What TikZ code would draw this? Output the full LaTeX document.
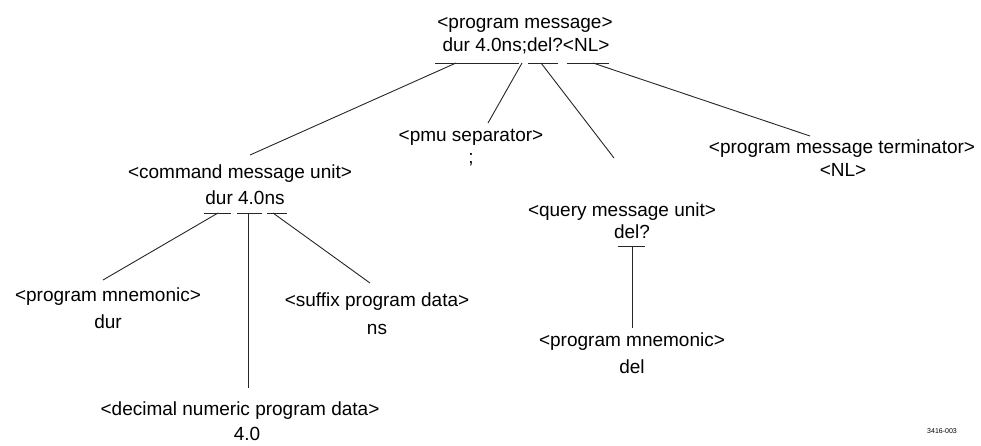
\documentclass[tikz,border=0pt]{standalone}
\usepackage{fontspec}
\setmainfont{Liberation Sans}
\begin{document}
\begin{tikzpicture}[x=1pt,y=-1pt,
  lbl/.style={anchor=base,inner sep=0pt,font=\fontsize{19}{22}\selectfont},
  tiny/.style={anchor=base,inner sep=0pt,font=\fontsize{7}{8}\selectfont},
  conn/.style={line width=0.9pt,draw=black!85},
  uline/.style={line width=0.9pt,draw=black!85}]
\useasboundingbox (0,0) rectangle (981,445);
% top
\node[lbl] (pm) at (525,28) {<program message>};
\node[lbl] (pmv) at (526,51) {dur 4.0ns;del?<NL>};
\coordinate (pmA1) at (435,63); \coordinate (pmA2) at (519,63);
\coordinate (pmB1) at (528,63); \coordinate (pmB2) at (558,63);
\coordinate (pmC1) at (567,63); \coordinate (pmC2) at (609,63);
\draw[uline] (pmA1) -- (pmA2);
\draw[uline] (pmB1) -- (pmB2);
\draw[uline] (pmC1) -- (pmC2);
\coordinate (pmA) at (456,63);
\coordinate (pmS) at (522,63);
\coordinate (pmB) at (541,63);
\coordinate (pmC) at (593,63);
% command message unit
\node[lbl] (cmu) at (240,178) {<command message unit>};
\node[lbl] (cmuv) at (245,204) {dur 4.0ns};
\coordinate (cmuIn) at (250,155);
\coordinate (cmuA1) at (204,213); \coordinate (cmuA2) at (231,213);
\coordinate (cmuB1) at (237,213); \coordinate (cmuB2) at (262,213);
\coordinate (cmuC1) at (267,213); \coordinate (cmuC2) at (287,213);
\draw[uline] (cmuA1) -- (cmuA2);
\draw[uline] (cmuB1) -- (cmuB2);
\draw[uline] (cmuC1) -- (cmuC2);
\coordinate (cmuA) at (218,213);
\coordinate (cmuB) at (248,213);
\coordinate (cmuC) at (273,213);
% pmu separator
\node[lbl] (pmu) at (471,141) {<pmu separator>};
\node[lbl] (pmuv) at (471,163) {;};
\coordinate (pmuIn) at (488,123);
% query message unit
\node[lbl] (qmu) at (622,216) {<query message unit>};
\node[lbl] (qmuv) at (632,238) {del?};
\coordinate (qmuIn) at (614,158);
\coordinate (qA1) at (618,246); \coordinate (qA2) at (645,246);
\draw[uline] (qA1) -- (qA2);
\coordinate (qA) at (632,246);
% terminator
\node[lbl] (term) at (842,153) {<program message terminator>};
\node[lbl] (termv) at (843,176) {<NL>};
\coordinate (termIn) at (810,136);
% left mnemonic
\node[lbl] (lm) at (108,301) {<program mnemonic>};
\node[lbl] (lmv) at (108,328) {dur};
\coordinate (lmIn) at (103,280);
% suffix
\node[lbl] (suf) at (377,306) {<suffix program data>};
\node[lbl] (sufv) at (377,334) {ns};
\coordinate (sufIn) at (370,283);
% decimal
\node[lbl] (dec) at (240,415) {<decimal numeric program data>};
\node[lbl] (decv) at (247,440) {4.0};
\coordinate (decIn) at (248,388);
% right mnemonic
\node[lbl] (rm) at (632,346) {<program mnemonic>};
\node[lbl] (rmv) at (632,373) {del};
\coordinate (rmIn) at (632,328);
% figure number
\node[tiny] (fig) at (942,433) {3416-003};
% connectors
\draw[conn] (pmA) -- (cmuIn);
\draw[conn] (pmS) -- (pmuIn);
\draw[conn] (pmB) -- (qmuIn);
\draw[conn] (pmC) -- (termIn);
\draw[conn] (cmuA) -- (lmIn);
\draw[conn] (cmuB) -- (decIn);
\draw[conn] (cmuC) -- (sufIn);
\draw[conn] (qA) -- (rmIn);
\end{tikzpicture}
\end{document}
